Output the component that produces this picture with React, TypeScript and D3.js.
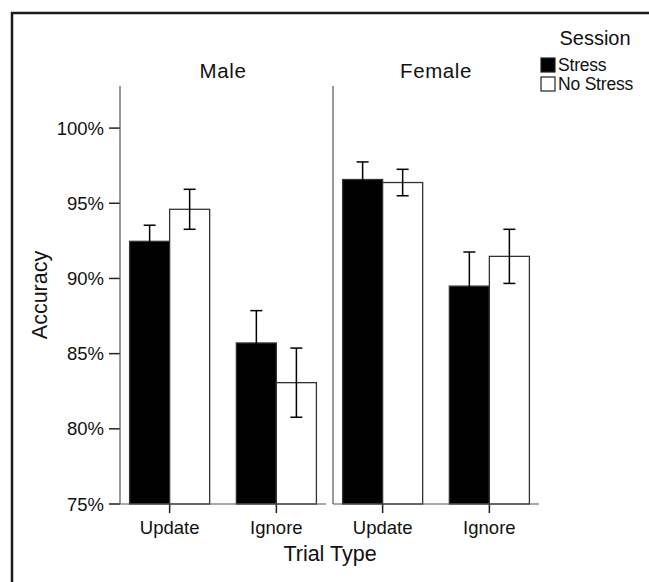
import React from "react";
import * as d3 from "d3";

// accuracy (%), per trial type [Update, Ignore]
const panels = ["Male", "Female"];
const trialTypes = ["Update", "Ignore"];
const sessions = ["Stress", "No Stress"];
const maleStress = [92.47, 85.71];
const maleNoStress = [94.6, 83.07];
const femaleStress = [96.58, 89.49];
const femaleNoStress = [96.38, 91.47];
const maleStressErr = [1.07, 2.15];
const maleNoStressErr = [1.33, 2.3];
const femaleStressErr = [1.17, 2.27];
const femaleNoStressErr = [0.88, 1.8];
const yTicks = [75, 80, 85, 90, 95, 100];

const W = 649;
const H = 582;
const FONT = "'Liberation Sans', Arial, Helvetica, sans-serif";

const App: React.FC = () => {
  const y = d3.scaleLinear().domain([75, 102.8]).range([504, 86]);
  const panelX = d3.scalePoint<string>().domain(panels).range([120, 333]);
  const panelW = 206;
  const x = d3
    .scaleBand<string>()
    .domain(trialTypes)
    .range([0, panelW])
    .paddingInner(0.25)
    .paddingOuter(0.09);
  const xs = d3.scaleBand<string>().domain(sessions).range([0, x.bandwidth()]);
  const fill = d3.scaleOrdinal<string, string>().domain(sessions).range(["#000", "#fff"]);

  const means = [
    [maleStress, maleNoStress],
    [femaleStress, femaleNoStress],
  ];
  const errs = [
    [maleStressErr, maleNoStressErr],
    [femaleStressErr, femaleNoStressErr],
  ];

  const [y0] = y.range();
  const yTop = y.range()[1];

  return (
    <svg
      width={W}
      height={H}
      style={{ position: "fixed", left: 0, top: 0, background: "#fff" }}
      fontFamily={FONT}
    >
      <rect x={0} y={0} width={W} height={H} fill="#fff" />
      <rect x={12} y={13} width={W + 50} height={H + 50} fill="none" stroke="#1a1a1a" strokeWidth={2.5} />

      {/* y axis ticks and labels */}
      {yTicks.map((t) => (
        <g key={t}>
          <line x1={109} x2={120} y1={y(t)} y2={y(t)} stroke="#222" strokeWidth={1.5} />
          <text x={104} y={y(t)} dy="0.36em" textAnchor="end" fontSize={18.5} fill="#111">
            {t}%
          </text>
        </g>
      ))}
      <text
        transform={`translate(47, ${(y0 + yTop) / 2}) rotate(-90)`}
        textAnchor="middle"
        fontSize={21.5}
        fill="#111"
      >
        Accuracy
      </text>

      {panels.map((p, pi) => {
        const px = panelX(p)!;
        return (
          <g key={p} transform={`translate(${px},0)`}>
            <text x={panelW / 2} y={78} textAnchor="middle" fontSize={20.5} letterSpacing={0.6} fill="#111">
              {p}
            </text>
            {trialTypes.map((tt, ti) => (
              <g key={tt} transform={`translate(${x(tt)},0)`}>
                {sessions.map((s, si) => {
                  const v = means[pi][si][ti];
                  const e = errs[pi][si][ti];
                  const bx = xs(s)!;
                  const cx = bx + xs.bandwidth() / 2;
                  return (
                    <g key={s}>
                      <rect
                        x={bx}
                        y={y(v)}
                        width={xs.bandwidth()}
                        height={y0 - y(v)}
                        fill={fill(s)}
                        stroke="#333"
                        strokeWidth={1.3}
                      />
                      <line x1={cx} x2={cx} y1={y(v + e)} y2={y(v - e)} stroke="#000" strokeWidth={1.5} />
                      <line x1={cx - 6} x2={cx + 6} y1={y(v + e)} y2={y(v + e)} stroke="#000" strokeWidth={1.5} />
                      <line x1={cx - 6} x2={cx + 6} y1={y(v - e)} y2={y(v - e)} stroke="#000" strokeWidth={1.5} />
                    </g>
                  );
                })}
                <line
                  x1={x.bandwidth() / 2}
                  x2={x.bandwidth() / 2}
                  y1={y0}
                  y2={y0 + 9}
                  stroke="#222"
                  strokeWidth={1.5}
                />
                <text x={x.bandwidth() / 2} y={534} textAnchor="middle" fontSize={18.5} fill="#111">
                  {tt}
                </text>
              </g>
            ))}
            <line x1={0} x2={0} y1={yTop} y2={y0} stroke="#555" strokeWidth={1.2} />
            <line x1={0} x2={panelW} y1={y0} y2={y0} stroke="#555" strokeWidth={1.2} />
          </g>
        );
      })}

      <text x={330} y={561} textAnchor="middle" fontSize={21.5} fill="#111">
        Trial Type
      </text>

      {/* legend */}
      <text x={595} y={45} textAnchor="middle" fontSize={20} fill="#111">
        Session
      </text>
      {sessions.map((s, i) => (
        <g key={s} transform={`translate(541, ${58 + i * 19})`}>
          <rect x={0} y={0} width={14} height={14} fill={fill(s)} stroke="#222" strokeWidth={1.2} />
          <text x={17} y={13} fontSize={17.5} letterSpacing={-0.2} fill="#111">
            {s}
          </text>
        </g>
      ))}
    </svg>
  );
};

export default App;
